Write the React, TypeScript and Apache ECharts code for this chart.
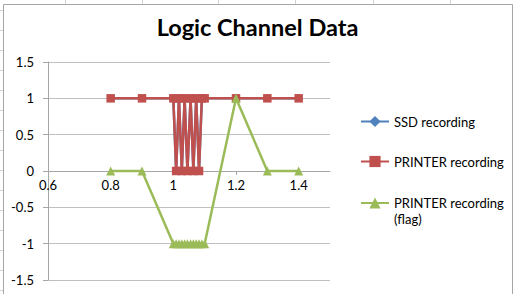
import React, { useEffect, useRef } from "react";
import * as echarts from "echarts";

const xValues = [0.8, 0.9, 1.0, 1.009, 1.018, 1.027, 1.036, 1.045, 1.055, 1.064, 1.073, 1.082, 1.091, 1.1, 1.2, 1.3, 1.4];
const ssdRecording = [1, 1, 1, 0, 1, 0, 1, 0, 1, 0, 1, 0, 1, 1, 1, 1, 1];
const printerRecording = [1, 1, 1, 0, 1, 0, 1, 0, 1, 0, 1, 0, 1, 1, 1, 1, 1];
const printerFlag = [0, 0, -1, -1, -1, -1, -1, -1, -1, -1, -1, -1, -1, -1, 1, 0, 0];
const seriesNames = ["SSD recording", "PRINTER recording", "PRINTER recording (flag)"];
const cellColumnsX = [65, 142, 218, 295, 373, 450];
const cellRowsY = [10, 30, 50, 70, 90, 110, 130, 150, 170, 190, 210, 230, 250, 270, 290];

const FONT = "Lato";

export default function App() {
  const ref = useRef<HTMLDivElement>(null);
  useEffect(() => {
    document.body.style.margin = "0";
    const chart = echarts.init(ref.current!, undefined, { renderer: "svg" });
    const pairs = (ys: number[]) => xValues.map((x, i) => [x, ys[i]]);
    const graphics: any[] = [];
    cellColumnsX.forEach((x) =>
      graphics.push({ type: "line", silent: true, shape: { x1: x + 0.5, y1: 0, x2: x + 0.5, y2: 4 }, style: { stroke: "#d4d4d4", lineWidth: 1 } })
    );
    cellRowsY.forEach((y) =>
      graphics.push({ type: "line", silent: true, shape: { x1: 0, y1: y + 0.5, x2: 3, y2: y + 0.5 }, style: { stroke: "#d4d4d4", lineWidth: 1 } })
    );
    graphics.push({
      type: "rect",
      silent: true,
      shape: { x: 3.5, y: 4.5, width: 509, height: 300 },
      style: { fill: "none", stroke: "#a6a6a6", lineWidth: 1 },
    });
    const legendText = { fontFamily: FONT, fontSize: 13, color: "#000000" };
    chart.setOption({
      animation: false,
      backgroundColor: "#ffffff",
      textStyle: { fontFamily: FONT },
      title: {
        text: "Logic Channel Data",
        left: "center",
        top: 10,
        textStyle: { fontFamily: FONT, fontWeight: "bold", fontSize: 23.5, color: "#000000" },
      },
      graphic: graphics,
      grid: { left: 48, right: 185, top: 62, bottom: 14, containLabel: false, outerBoundsMode: "none" },
      xAxis: {
        type: "value",
        min: 0.6,
        max: 1.5,
        interval: 0.2,
        offset: -109,
        axisLine: { onZero: false, lineStyle: { color: "#a6a6a6", width: 1 } },
        axisTick: { show: true, length: 4, lineStyle: { color: "#a6a6a6" } },
        axisLabel: { showMaxLabel: false, color: "#000000", fontSize: 13, fontFamily: FONT, margin: 7 },
        splitLine: { show: false },
      },
      yAxis: {
        type: "value",
        min: -1.5,
        max: 1.5,
        interval: 0.5,
        axisLine: { show: true, lineStyle: { color: "#a6a6a6", width: 1 } },
        axisTick: { show: true, length: 5, lineStyle: { color: "#a6a6a6" } },
        axisLabel: { color: "#000000", fontSize: 13, fontFamily: FONT, margin: 14 },
        splitLine: { show: true, lineStyle: { color: "#c0c0c0", width: 1 } },
      },
      legend: [
        {
          data: [seriesNames[0]],
          orient: "vertical",
          left: 360,
          top: 115,
          padding: 0,
          itemWidth: 28,
          itemHeight: 14,
          textStyle: legendText,
        },
        {
          data: [seriesNames[1]],
          orient: "vertical",
          left: 360,
          top: 155,
          padding: 0,
          itemWidth: 28,
          itemHeight: 14,
          textStyle: legendText,
        },
        {
          data: [seriesNames[2]],
          orient: "vertical",
          left: 360,
          top: 179,
          padding: 0,
          itemWidth: 28,
          itemHeight: 14,
          formatter: () => "\nPRINTER recording\n(flag)",
          textStyle: { ...legendText, lineHeight: 16 },
        },
      ],
      series: [
        {
          name: seriesNames[0],
          type: "line",
          data: pairs(ssdRecording),
          symbol: "diamond",
          symbolSize: 8,
          lineStyle: { color: "#4F81BD", width: 2.5 },
          itemStyle: { color: "#4F81BD" },
          z: 2,
        },
        {
          name: seriesNames[1],
          type: "line",
          data: pairs(printerRecording),
          symbol: "rect",
          symbolSize: 8.5,
          lineStyle: { color: "#C0504D", width: 2.5 },
          itemStyle: { color: "#C0504D" },
          z: 3,
        },
        {
          name: seriesNames[2],
          type: "line",
          data: pairs(printerFlag),
          symbol: "triangle",
          symbolSize: 9,
          lineStyle: { color: "#9BBB59", width: 2.5 },
          itemStyle: { color: "#9BBB59" },
          z: 4,
        },
      ],
    });
    return () => chart.dispose();
  }, []);
  return <div ref={ref} style={{ width: 515, height: 294 }} />;
}
